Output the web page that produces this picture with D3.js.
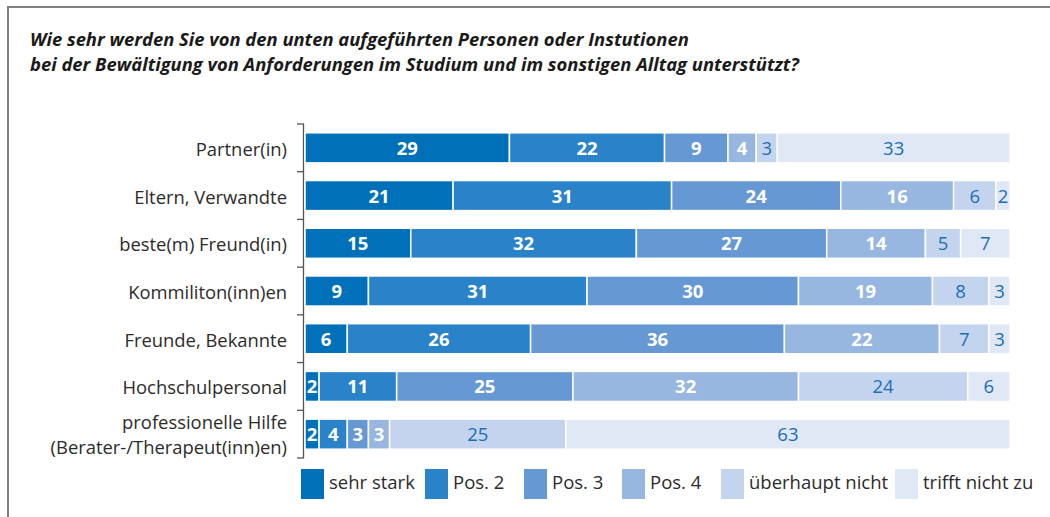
<!DOCTYPE html>
<html>
<head>
<meta charset="utf-8">
<script src="https://cdn.jsdelivr.net/npm/d3@7"></script>
<style>
  body { margin: 0; background: #fff; }
  svg { display: block; font-family: "Open Sans", sans-serif; }
</style>
</head>
<body>
<div id="chart"></div>
<script>
// data
var titleLines = [
  "Wie sehr werden Sie von den unten aufgeführten Personen oder Instutionen",
  "bei der Bewältigung von Anforderungen im Studium und im sonstigen Alltag unterstützt?"
];
var categories = [
  ["Partner(in)"],
  ["Eltern, Verwandte"],
  ["beste(m) Freund(in)"],
  ["Kommiliton(inn)en"],
  ["Freunde, Bekannte"],
  ["Hochschulpersonal"],
  ["professionelle Hilfe", "(Berater-/Therapeut(inn)en)"]
];
var seriesNames = ["sehr stark", "Pos. 2", "Pos. 3", "Pos. 4", "überhaupt nicht", "trifft nicht zu"];
var sehrStark       = [29, 21, 15, 9, 6, 2, 2];
var pos2            = [22, 31, 32, 31, 26, 11, 4];
var pos3            = [9, 24, 27, 30, 36, 25, 3];
var pos4            = [4, 16, 14, 19, 22, 32, 3];
var ueberhauptNicht = [3, 6, 5, 8, 7, 24, 25];
var trifftNichtZu   = [33, 2, 7, 3, 3, 6, 63];

var colors = ["#0071b9", "#2a83c9", "#6699d3", "#97b6e0", "#c5d4ee", "#e0e7f5"];
var labelColors = ["#fff", "#fff", "#fff", "#fff", "#1a6fb5", "#1a6fb5"];

var width = 1050, height = 517;
var svg = d3.select("#chart").append("svg")
  .attr("width", width).attr("height", height);

// frame
svg.append("path")
  .attr("d", "M8,517 V7 H1050")
  .attr("fill", "none")
  .attr("stroke", "#808080")
  .attr("stroke-width", 2);

// title
svg.append("g").selectAll("text")
  .data(titleLines)
  .join("text")
  .attr("x", 30)
  .attr("y", function(d, i) { return 46 + i * 25; })
  .attr("font-size", 18.4)
  .attr("font-weight", "bold")
  .attr("font-style", "italic")
  .attr("fill", "#1a1a1a")
  .text(function(d) { return d; });

var allSeries = [sehrStark, pos2, pos3, pos4, ueberhauptNicht, trifftNichtZu];
var rows = categories.map(function(c, i) {
  var r = { idx: i };
  allSeries.forEach(function(s, k) { r["s" + k] = s[i]; });
  return r;
});
var keys = allSeries.map(function(s, k) { return "s" + k; });
var stacked = d3.stack().keys(keys)(rows);

var x = d3.scaleLinear().domain([0, 100]).range([305, 1010]);
var y = d3.scaleBand().domain(d3.range(categories.length)).range([124, 458]).paddingInner(0.37).paddingOuter(0.185);

// axis with ticks at category boundaries
var axisG = svg.append("g");
axisG.append("line")
  .attr("x1", 303.5).attr("x2", 303.5)
  .attr("y1", y.range()[0]).attr("y2", y.range()[1])
  .attr("stroke", "#555").attr("stroke-width", 1.3);
var step = y.step();
axisG.selectAll(".tk")
  .data(d3.range(categories.length + 1))
  .join("line")
  .attr("x1", 297).attr("x2", 304)
  .attr("y1", function(d) { return y.range()[0] + d * step; })
  .attr("y2", function(d) { return y.range()[0] + d * step; })
  .attr("stroke", "#555").attr("stroke-width", 1.3);

// category labels (one text per line)
var catG = svg.append("g");
categories.forEach(function(lines, i) {
  var cy = y(i) + y.bandwidth() / 2;
  var n = lines.length;
  lines.forEach(function(line, j) {
    catG.append("text")
      .attr("x", 287)
      .attr("y", n > 1 ? cy + 9 + (j - (n - 1) / 2) * 25.5 - 1.5 : cy + 8)
      .attr("text-anchor", "end")
      .attr("font-size", 18.4)
      .attr("fill", "#2b2b2b")
      .text(line);
  });
});

// bars
var layers = svg.append("g").selectAll("g")
  .data(stacked)
  .join("g")
  .attr("fill", function(d, k) { return colors[k]; });

layers.selectAll("rect")
  .data(function(d) { return d; })
  .join("rect")
  .attr("x", function(d) { return x(d[0]); })
  .attr("width", function(d) { return x(d[1]) - x(d[0]); })
  .attr("y", function(d, i) { return y(i); })
  .attr("height", y.bandwidth())
  .attr("stroke", "#fff")
  .attr("stroke-width", 1.5);

layers.selectAll("text")
  .data(function(d) { return d; })
  .join("text")
  .attr("x", function(d) { return (x(d[0]) + x(d[1])) / 2; })
  .attr("y", function(d, i) { return y(i) + y.bandwidth() / 2 + 7; })
  .attr("text-anchor", "middle")
  .attr("font-size", 18.5)
  .attr("font-weight", function() { return d3.select(this.parentNode).datum().index < 4 ? "bold" : "normal"; })
  .attr("fill", function() { return labelColors[d3.select(this.parentNode).datum().index]; })
  .text(function(d) { return d[1] - d[0]; });

// legend
var legendX = [301, 425, 524, 622, 721, 895];
var leg = svg.append("g").selectAll("g")
  .data(seriesNames)
  .join("g")
  .attr("transform", function(d, i) { return "translate(" + legendX[i] + ",469)"; });
leg.append("rect")
  .attr("width", 23)
  .attr("height", 30)
  .attr("fill", function(d, i) { return colors[i]; });
leg.append("text")
  .attr("x", 28)
  .attr("y", 20)
  .attr("font-size", 18.5)
  .attr("fill", "#2b2b2b")
  .text(function(d) { return d; });
</script>
</body>
</html>
